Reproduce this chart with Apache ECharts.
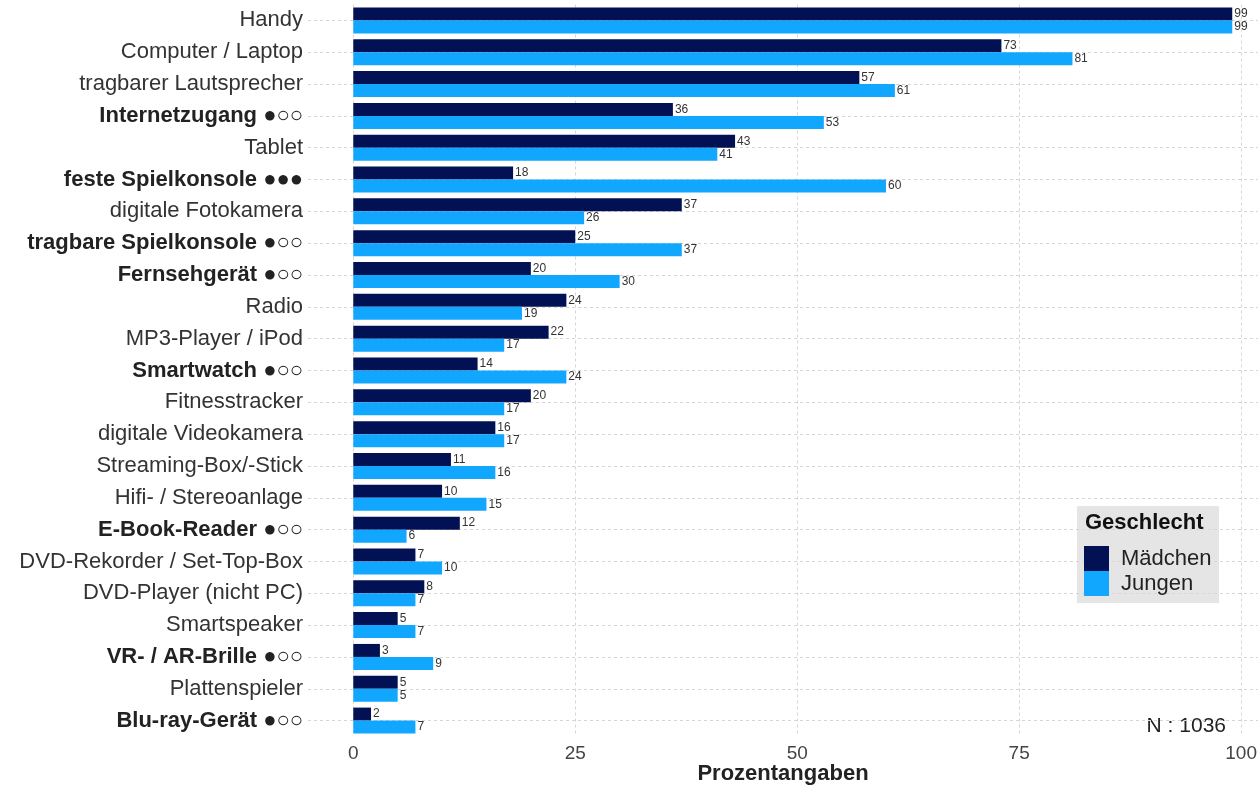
<!DOCTYPE html>
<html>
<head>
<meta charset="utf-8">
<script src="https://cdn.jsdelivr.net/npm/echarts@6/dist/echarts.min.js"></script>
<style>
html,body{margin:0;padding:0;background:#fff;}
#chart{width:1260px;height:785px;}
</style>
</head>
<body>
<div id="chart"></div>
<script>
const categories = [
  'Handy','Computer / Laptop','tragbarer Lautsprecher','Internetzugang ●○○','Tablet',
  'feste Spielkonsole ●●●','digitale Fotokamera','tragbare Spielkonsole ●○○','Fernsehgerät ●○○','Radio',
  'MP3-Player / iPod','Smartwatch ●○○','Fitnesstracker','digitale Videokamera','Streaming-Box/-Stick',
  'Hifi- / Stereoanlage','E-Book-Reader ●○○','DVD-Rekorder / Set-Top-Box','DVD-Player (nicht PC)','Smartspeaker',
  'VR- / AR-Brille ●○○','Plattenspieler','Blu-ray-Gerät ●○○'
];
const maedchen = [99,73,57,36,43,18,37,25,20,24,22,14,20,16,11,10,12,7,8,5,3,5,2];
const jungen   = [99,81,61,53,41,60,26,37,30,19,17,24,17,17,16,15,6,10,7,7,9,5,7];
const xTicks = [0,25,50,75,100];
const seriesNames = ['Mädchen','Jungen'];
const legendTitle = 'Geschlecht';
const xTitle = 'Prozentangaben';
const nText = 'N : 1036';

const FONT = 'Liberation Sans, Arial, sans-serif';
const NAVY = '#021153';
const BLUE = '#12a7ff';

const chart = echarts.init(document.getElementById('chart'));
const labelStyle = {show:true, position:'right', distance:2, fontSize:12, color:'#333', fontFamily:FONT};

chart.setOption({
  animation:false,
  textStyle:{fontFamily:FONT},
  grid:{left:308, right:2, top:4.5, bottom:48.5, containLabel:false, outerBoundsMode:'none'},
  xAxis:{
    type:'value', min:-5.1, max:101.9,
    axisLine:{show:false},
    axisTick:{show:false, customValues:xTicks},
    axisLabel:{customValues:xTicks, fontSize:19, color:'#444', margin:8, fontFamily:FONT},
    splitLine:{show:true, lineStyle:{color:'#d6d6d6', type:[3,3], width:1}},
    name:xTitle, nameLocation:'middle', nameGap:26, nameMoveOverlap:false,
    nameTextStyle:{fontSize:22, fontWeight:'bold', color:'#222', fontFamily:FONT, verticalAlign:'top'}
  },
  yAxis:{
    type:'category', data:categories, inverse:true,
    axisLine:{show:false}, axisTick:{show:false},
    splitLine:{show:false},
    axisLabel:{
      fontSize:22, color:'#333', margin:5, fontFamily:FONT,
      formatter:function(v){ return v.indexOf('●')>=0 ? '{b|'+v+'}' : v; },
      rich:{b:{fontWeight:'bold', fontSize:22, color:'#222', fontFamily:FONT}}
    }
  },
  legend:{
    data:seriesNames, orient:'vertical', left:1084, top:546,
    itemWidth:25, itemHeight:25, itemGap:0, icon:'rect', padding:0,
    textStyle:{fontSize:22, color:'#222', fontFamily:FONT, padding:[0,0,0,7]},
    selectedMode:false
  },
  graphic:[
    {type:'rect', left:1077, top:506, shape:{width:142, height:97}, style:{fill:'#e5e5e5'}, z:-1, silent:true},
    {type:'text', left:1085, top:512, style:{text:legendTitle, font:'bold 22px '+FONT, fill:'#111'}},
    {type:'text', right:34, top:716, style:{text:nText, font:'21px '+FONT, fill:'#222'}}
  ],
  series:[
    {
      type:'line', data:[], silent:true, z:0,
      markLine:{
        silent:true, symbol:['none','none'], z:0, label:{show:false},
        lineStyle:{color:'#d6d6d6', type:[3,3], width:1},
        data:categories.map(c=>({yAxis:c}))
      }
    },
    {name:seriesNames[0], type:'bar', data:maedchen, barWidth:13, barGap:'0%', itemStyle:{color:NAVY}, label:labelStyle, z:2},
    {name:seriesNames[1], type:'bar', data:jungen, barWidth:13, barGap:'0%', itemStyle:{color:BLUE}, label:labelStyle, z:2}
  ]
});
</script>
</body>
</html>
